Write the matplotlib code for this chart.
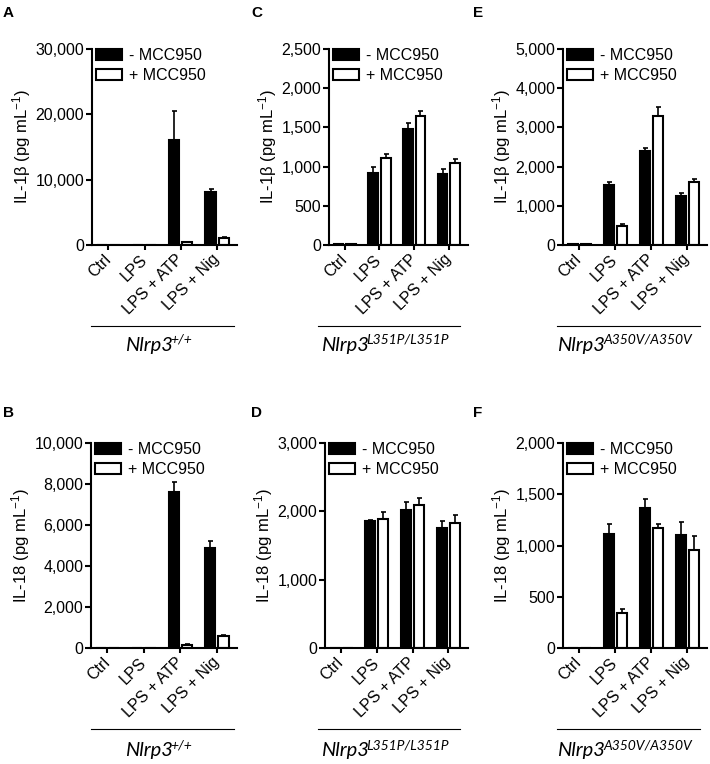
import numpy as np
import matplotlib
matplotlib.use('Agg')
import matplotlib.pyplot as plt
from matplotlib.lines import Line2D
from matplotlib.patches import Patch
from matplotlib.ticker import FuncFormatter, MultipleLocator

plt.rcParams['font.family'] = ['Liberation Sans', 'DejaVu Sans']
plt.rcParams['mathtext.fontset'] = 'custom'
plt.rcParams['mathtext.rm'] = 'Liberation Sans'
plt.rcParams['mathtext.it'] = 'Liberation Sans:italic'

categories = ['Ctrl', 'LPS', 'LPS + ATP', 'LPS + Nig']

# A: IL-1b, Nlrp3 +/+
a_minus = [0, 0, 16000, 8150]
a_minus_err = [0, 0, 4500, 450]
a_plus = [0, 0, 450, 1050]
a_plus_err = [0, 0, 80, 150]

# B: IL-18, Nlrp3 +/+
b_minus = [0, 0, 7600, 4900]
b_minus_err = [0, 0, 500, 320]
b_plus = [0, 0, 150, 570]
b_plus_err = [0, 0, 60, 40]

# C: IL-1b, Nlrp3 L351P/L351P
c_minus = [10, 920, 1475, 900]
c_minus_err = [0, 75, 75, 75]
c_plus = [10, 1115, 1650, 1040]
c_plus_err = [0, 45, 65, 55]

# D: IL-18, Nlrp3 L351P/L351P
d_minus = [0, 1855, 2020, 1750]
d_minus_err = [0, 25, 110, 110]
d_plus = [0, 1885, 2090, 1830]
d_plus_err = [0, 100, 105, 110]

# E: IL-1b, Nlrp3 A350V/A350V
e_minus = [20, 1520, 2400, 1250]
e_minus_err = [0, 90, 65, 80]
e_plus = [20, 495, 3280, 1600]
e_plus_err = [0, 45, 235, 85]

# F: IL-18, Nlrp3 A350V/A350V
f_minus = [0, 1115, 1365, 1100]
f_minus_err = [0, 90, 90, 125]
f_plus = [0, 345, 1170, 960]
f_plus_err = [0, 40, 35, 135]

W, H = 710, 764
il1b_label = 'IL-1\u03b2 (pg mL$^{-1}$)'
il18_label = 'IL-18 (pg mL$^{-1}$)'


def px_rect(left, right, bottom, top):
    return [left / W, 1 - bottom / H, (right - left) / W, (bottom - top) / H]


def draw_panel(ax, minus, minus_err, plus, plus_err, ymax, ystep, ylabel):
    x = np.arange(len(categories))
    w = 0.28
    off = 0.18
    zeros = np.zeros(len(x))
    ax.bar(x - off, minus, w, color='black', edgecolor='black', linewidth=1.5, zorder=2)
    ax.bar(x + off, plus, w, color='white', edgecolor='black', linewidth=1.5, zorder=2)
    ax.errorbar(x - off, minus, yerr=[zeros, minus_err], fmt='none', ecolor='black',
                elinewidth=1.2, capsize=1.8, capthick=1.2, zorder=3)
    ax.errorbar(x + off, plus, yerr=[zeros, plus_err], fmt='none', ecolor='black',
                elinewidth=1.2, capsize=1.8, capthick=1.2, zorder=3)

    ax.set_xlim(-0.45, 3.55)
    ax.set_ylim(0, ymax)
    ax.yaxis.set_major_locator(MultipleLocator(ystep))
    ax.yaxis.set_major_formatter(FuncFormatter(lambda v, p: f'{v:,.0f}'))
    ax.set_xticks(x)
    ax.set_xticklabels(categories, rotation=45, ha='right', va='center',
                       rotation_mode='anchor', fontsize=11.5)
    ax.tick_params(axis='y', labelsize=11.5, width=1.5, length=4.5, pad=1)
    ax.tick_params(axis='x', width=1.5, length=3.6, pad=5)
    ax.set_ylabel(ylabel, fontsize=12, labelpad=2)
    for s in ['top', 'right']:
        ax.spines[s].set_visible(False)
    for s in ['left', 'bottom']:
        ax.spines[s].set_linewidth(1.5)

    handles = [Patch(facecolor='black', edgecolor='black', linewidth=1.5, label='- MCC950'),
               Patch(facecolor='white', edgecolor='black', linewidth=1.5, label='+ MCC950')]
    ax.legend(handles=handles, loc='upper left', bbox_to_anchor=(0.03, 1.005),
              frameon=False, fontsize=11.5, handlelength=1.6, handleheight=0.7,
              handletextpad=0.45, labelspacing=0.3, borderpad=0, borderaxespad=0)


def add_genotype(fig, x0, x1, y_line, y_text, sup):
    fig.add_artist(Line2D([x0 / W, x1 / W], [1 - y_line / H, 1 - y_line / H],
                          color='black', lw=0.8))
    # gene name, then the italic superscript right after it
    renderer = fig.canvas.get_renderer()
    main = fig.text(0, 1 - y_text / H, 'Nlrp3', family='Lato', style='italic',
                    fontsize=14.5, ha='left', va='baseline')
    sup_t = fig.text(0, 1 - (y_text - 7) / H, sup, family='Lato', style='italic',
                     fontsize=10, ha='left', va='baseline')
    w_main = main.get_window_extent(renderer).width
    w_sup = sup_t.get_window_extent(renderer).width
    start = (x0 + x1) / 2 - 3 - (w_main + w_sup) / 2
    main.set_x(start / W)
    sup_t.set_x((start + w_main - 2) / W)


fig = plt.figure(figsize=(7.1, 7.64), dpi=100)

ax_a = fig.add_axes(px_rect(92, 237, 245, 49))
ax_c = fig.add_axes(px_rect(329, 468, 245, 49))
ax_e = fig.add_axes(px_rect(563, 707, 245, 49))
ax_b = fig.add_axes(px_rect(91, 237, 648, 443))
ax_d = fig.add_axes(px_rect(325, 468, 648, 443))
ax_f = fig.add_axes(px_rect(563, 707, 648, 443))

draw_panel(ax_a, a_minus, a_minus_err, a_plus, a_plus_err, 30000, 10000, il1b_label)
draw_panel(ax_b, b_minus, b_minus_err, b_plus, b_plus_err, 10000, 2000, il18_label)
draw_panel(ax_c, c_minus, c_minus_err, c_plus, c_plus_err, 2500, 500, il1b_label)
draw_panel(ax_d, d_minus, d_minus_err, d_plus, d_plus_err, 3000, 1000, il18_label)
draw_panel(ax_e, e_minus, e_minus_err, e_plus, e_plus_err, 5000, 1000, il1b_label)
draw_panel(ax_f, f_minus, f_minus_err, f_plus, f_plus_err, 2000, 500, il18_label)

add_genotype(fig, 91, 234, 326, 351, '+/+')
add_genotype(fig, 318, 460, 326, 351, 'L351P/L351P')
add_genotype(fig, 557, 700, 326, 351, 'A350V/A350V')
add_genotype(fig, 91, 234, 729, 756, '+/+')
add_genotype(fig, 318, 460, 729, 756, 'L351P/L351P')
add_genotype(fig, 557, 700, 729, 756, 'A350V/A350V')

for letter, lx, ly in [('A', 3, 17), ('C', 251, 17), ('E', 473, 17),
                       ('B', 3, 417), ('D', 251, 417), ('F', 473, 417)]:
    fig.text(lx / W, 1 - ly / H, letter, fontsize=11, fontweight='bold',
             ha='left', va='baseline')

fig.savefig('out.png', dpi=100)
